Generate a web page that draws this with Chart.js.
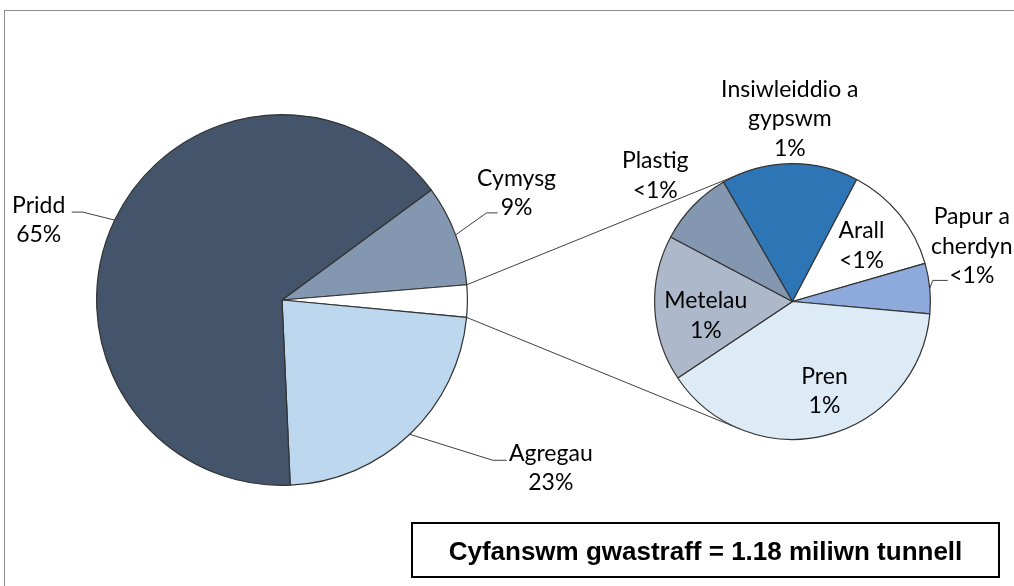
<!DOCTYPE html>
<html>
<head>
<meta charset="utf-8">
<script src="https://cdn.jsdelivr.net/npm/chart.js@4.4.1/dist/chart.umd.min.js"></script>
<style>
	html, body { margin: 0; padding: 0; background: #fff; }
	#wrap { position: relative; width: 1014px; height: 586px; overflow: hidden; }
	#frame { position: absolute; left: 4px; top: 10px; width: 1040px; height: 620px; border: 1px solid #8c8c8c; }
	canvas { position: absolute; left: 0; top: 0; }
	#total {
		position: absolute; left: 411px; top: 522px; width: 585px; height: 52px;
		border: 2px solid #000; box-sizing: content-box;
		font: bold 26px "Liberation Sans", Arial, sans-serif; color: #000;
		text-align: center; line-height: 54px;
	}
</style>
</head>
<body>
<div id="wrap">
	<div id="frame"></div>
	<canvas id="mainPie" width="1014" height="586"></canvas>
	<canvas id="subPie" width="1014" height="586"></canvas>
	<div id="total">Cyfanswm gwastraff = 1.18 miliwn tunnell</div>
</div>
<script>
// prif gylch - % o'r cyfanswm, clocwedd o Cymysg
var mainLabels = ["Cymysg", "Eraill", "Agregau", "Pridd"];
var mainPct = [8.8, 0, 22.8, 65.6];
var mainPctText = ["9%", "", "23%", "65%"];
var mainColors = ["#8497B0", "#FFFFFF", "#BDD7EE", "#44546A"];

// ail gylch - y darn "Eraill" wedi'i rannu
var subLabels = [["Insiwleiddio a", "gypswm"], "Arall", ["Papur a", "cherdyn"], "Pren", "Metelau", "Plastig"];
var subPct = [0.45, 0.36, 0.165, 1.10, 0.48, 0.25];
var subPctText = ["1%", "<1%", "<1%", "1%", "1%", "<1%"];
var subColors = ["#2E75B6", "#FFFFFF", "#8EA9DB", "#DDEBF7", "#ADB9CA", "#8497B0"];

// the "Eraill" slice of the main pie is the sum of the second pie
var otherSum = 0;
for (var i = 0; i < subPct.length; i++) {
	otherSum += subPct[i];
}
mainPct[1] = otherSum;

var FONT = '23px Lato, "Noto Sans", sans-serif';
var LINE_H = 29.5;

// label block centre = slice edge point (at mid angle) + dx,dy
var placement = {
	"Pridd": { dx: -76, dy: 0, leader: { qx: 33, qy: -8, arm: 11 } },
	"Cymysg": { dx: 61, dy: -42, leader: { qx: -19, qy: 20, arm: -11 } },
	"Agregau": { dx: 141, dy: 34, leader: { qx: -44, qy: -8, arm: -14 } },
	"Insiwleiddio a gypswm": { dx: 0, dy: -45 },
	"Arall": { dx: -38, dy: 31 },
	"Papur a cherdyn": { dx: 42, dy: -42, leader: { qx: -24, qy: 34, arm: -15 } },
	"Pren": { dx: -2, dy: -44 },
	"Metelau": { dx: 51, dy: 7 },
	"Plastig": { dx: -38, dy: -30 }
};

function labelKey(lbl) {
	return Array.isArray(lbl) ? lbl.join(" ") : lbl;
}

var labelPlugin = {
	id: "sliceLabels",
	afterDatasetsDraw: function(chart) {
		var ctx = chart.ctx;
		var arcs = chart.getDatasetMeta(0).data;
		var pctText = chart.options.pctText;
		ctx.save();
		ctx.font = FONT;
		ctx.fillStyle = "#000";
		ctx.textAlign = "center";
		ctx.textBaseline = "middle";
		arcs.forEach(function(arc, i) {
			if (!pctText[i]) return;
			var lbl = chart.data.labels[i];
			var p = placement[labelKey(lbl)];
			if (!p) return;
			var a = arc.getProps(["x", "y", "startAngle", "endAngle", "outerRadius"], true);
			var mid = (a.startAngle + a.endAngle) / 2;
			var ex = a.x + a.outerRadius * Math.cos(mid);
			var ey = a.y + a.outerRadius * Math.sin(mid);
			var cx = ex + p.dx;
			var cy = ey + p.dy;
			var lines = (Array.isArray(lbl) ? lbl.slice() : [lbl]);
			lines.push(pctText[i]);
			for (var k = 0; k < lines.length; k++) {
				ctx.fillText(lines[k], cx, cy + (k - (lines.length - 1) / 2) * LINE_H);
			}
			if (p.leader) {
				var qx = cx + p.leader.qx, qy = cy + p.leader.qy;
				ctx.beginPath();
				ctx.strokeStyle = "#404040";
				ctx.lineWidth = 1;
				ctx.moveTo(ex, ey);
				ctx.lineTo(qx + p.leader.arm, qy);
				ctx.lineTo(qx, qy);
				ctx.stroke();
			}
		});
		ctx.restore();
	}
};

var mainChart;
var subChart;

// the two lines joining the "Eraill" slice to the second pie
var connectorPlugin = {
	id: "connectors",
	afterDatasetsDraw: function(chart) {
		if (!mainChart) return;
		var other = mainChart.getDatasetMeta(0).data[1].getProps(["x", "y", "startAngle", "endAngle", "outerRadius"], true);
		var sub = chart.getDatasetMeta(0).data[0].getProps(["x", "y", "outerRadius"], true);
		var ctx = chart.ctx;
		ctx.save();
		ctx.strokeStyle = "#404040";
		ctx.lineWidth = 1;
		[[other.startAngle, 1], [other.endAngle, -1]].forEach(function(item) {
			var sx = other.x + other.outerRadius * Math.cos(item[0]);
			var sy = other.y + other.outerRadius * Math.sin(item[0]);
			var d = Math.hypot(sx - sub.x, sy - sub.y);
			var beta = Math.atan2(sy - sub.y, sx - sub.x);
			var theta = Math.acos(sub.outerRadius / d);
			var t = beta + item[1] * theta;
			ctx.beginPath();
			ctx.moveTo(sx, sy);
			ctx.lineTo(sub.x + sub.outerRadius * Math.cos(t), sub.y + sub.outerRadius * Math.sin(t));
			ctx.stroke();
		});
		ctx.restore();
	}
};

mainChart = new Chart(document.getElementById("mainPie"), {
	type: "pie",
	data: {
		labels: mainLabels,
		datasets: [{
			data: mainPct,
			backgroundColor: mainColors,
			borderColor: "#333333",
			borderWidth: 1.2,
			hoverOffset: 0
		}]
	},
	options: {
		responsive: false,
		animation: false,
		events: [],
		rotation: 53.6,
		pctText: mainPctText,
		layout: { padding: { left: 96, right: 546, top: 114, bottom: 100 } },
		plugins: { legend: { display: false }, tooltip: { enabled: false } }
	},
	plugins: [labelPlugin]
});

subChart = new Chart(document.getElementById("subPie"), {
	type: "pie",
	data: {
		labels: subLabels,
		datasets: [{
			data: subPct,
			backgroundColor: subColors,
			borderColor: "#333333",
			borderWidth: 1.2,
			hoverOffset: 0
		}]
	},
	options: {
		responsive: false,
		animation: false,
		events: [],
		rotation: -30,
		pctText: subPctText,
		layout: { padding: { left: 654, right: 83, top: 163, bottom: 146 } },
		plugins: { legend: { display: false }, tooltip: { enabled: false } }
	},
	plugins: [connectorPlugin, labelPlugin]
});
</script>
</body>
</html>
